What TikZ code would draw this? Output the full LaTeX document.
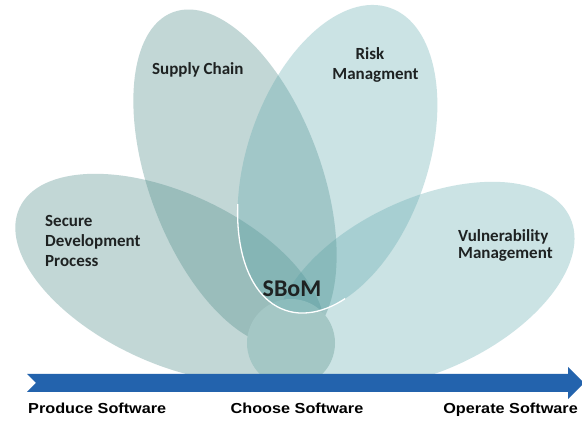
\documentclass[tikz,border=0pt]{standalone}
\usepackage{fontspec}
\setmainfont{Carlito}
\newfontfamily\labelfont{Liberation Sans}
\definecolor{petalgray}{HTML}{4E8B89}
\definecolor{petalcyan}{HTML}{58A5AA}
\definecolor{basefill}{HTML}{A4C7C5}
\definecolor{flowblue}{HTML}{2363AD}
\definecolor{inktext}{HTML}{1E2222}
\begin{document}
\begin{tikzpicture}[x=1pt,y=1pt,
  petalL/.style={fill=petalgray,fill opacity=0.34},
  petalR/.style={fill=petalcyan,fill opacity=0.31},
  petaltext/.style={font=\bfseries\fontsize{17}{20}\selectfont,text=inktext,inner sep=0pt},
  coretext/.style={font=\bfseries\fontsize{24}{28}\selectfont,text=inktext,inner sep=0pt},
  axistext/.style={font=\labelfont\bfseries\fontsize{14.5}{17}\selectfont,text=black,inner sep=0pt}]

\useasboundingbox (0,0) rectangle (582,423);
\fill[white] (0,0) rectangle (582,423);

% lower-left petal: secure development
\fill[petalL,rotate around={-25:(170,145)}] (170,145) ellipse [x radius=166,y radius=85];
% lower-right petal: vulnerability management
\fill[petalR,rotate around={25:(425,138)}] (425,138) ellipse [x radius=160,y radius=86];
% upper-left petal: supply chain
\fill[petalL,rotate around={-69.5:(235,245)}] (235,245) ellipse [x radius=177,y radius=86];
% rounded base below the centre, kept outside the risk petal
\begin{scope}
  \clip[rotate around={-109.1:(337.5,264)}] (-2000,2000) rectangle (2000,-2000)
    (337.5,264) ellipse [x radius=160,y radius=90];
  \fill[basefill] (291,80) circle [radius=44];
\end{scope}
% upper-right petal: risk management
\fill[petalR,rotate around={-109.1:(337.5,264)}] (337.5,264) ellipse [x radius=160,y radius=90];
% white rim along the lower part of the risk petal
\begin{scope}
  \clip (200,0) rectangle (345,218);
  \draw[white,line width=1.3pt,rotate around={-109.1:(337.5,264)}] (337.5,264) ellipse [x radius=160,y radius=90];
\end{scope}

% petal labels
\node[petaltext,anchor=base west] (supply) at (152,348) {Supply Chain};
\node[petaltext,anchor=base] (risk1) at (370,363) {Risk};
\node[petaltext,anchor=base] (risk2) at (375.5,343) {Managment};
\node[petaltext,anchor=base west] (sec1) at (45,196) {Secure};
\node[petaltext,anchor=base west] (sec2) at (45,176) {Development};
\node[petaltext,anchor=base west] (sec3) at (45,156) {Process};
\node[petaltext,anchor=base west] (vul1) at (458,181) {Vulnerability};
\node[petaltext,anchor=base west] (vul2) at (458,164) {Management};
\node[coretext,anchor=base] (sbom) at (292,126) {SBoM};

% timeline arrow with notched tail
\fill[flowblue] (27,49) -- (568,49) -- (568,56) -- (584,40) -- (568,24) -- (568,31)
  -- (27,31) -- (36,40) -- cycle;

% timeline labels
\node[axistext,anchor=base west] (produce) at (28,9) {\scalebox{1.12}[1]{Produce Software}};
\node[axistext,anchor=base] (choose) at (297,9) {\scalebox{1.12}[1]{Choose Software}};
\node[axistext,anchor=base east] (operate) at (578,9) {\scalebox{1.12}[1]{Operate Software}};
\end{tikzpicture}
\end{document}
